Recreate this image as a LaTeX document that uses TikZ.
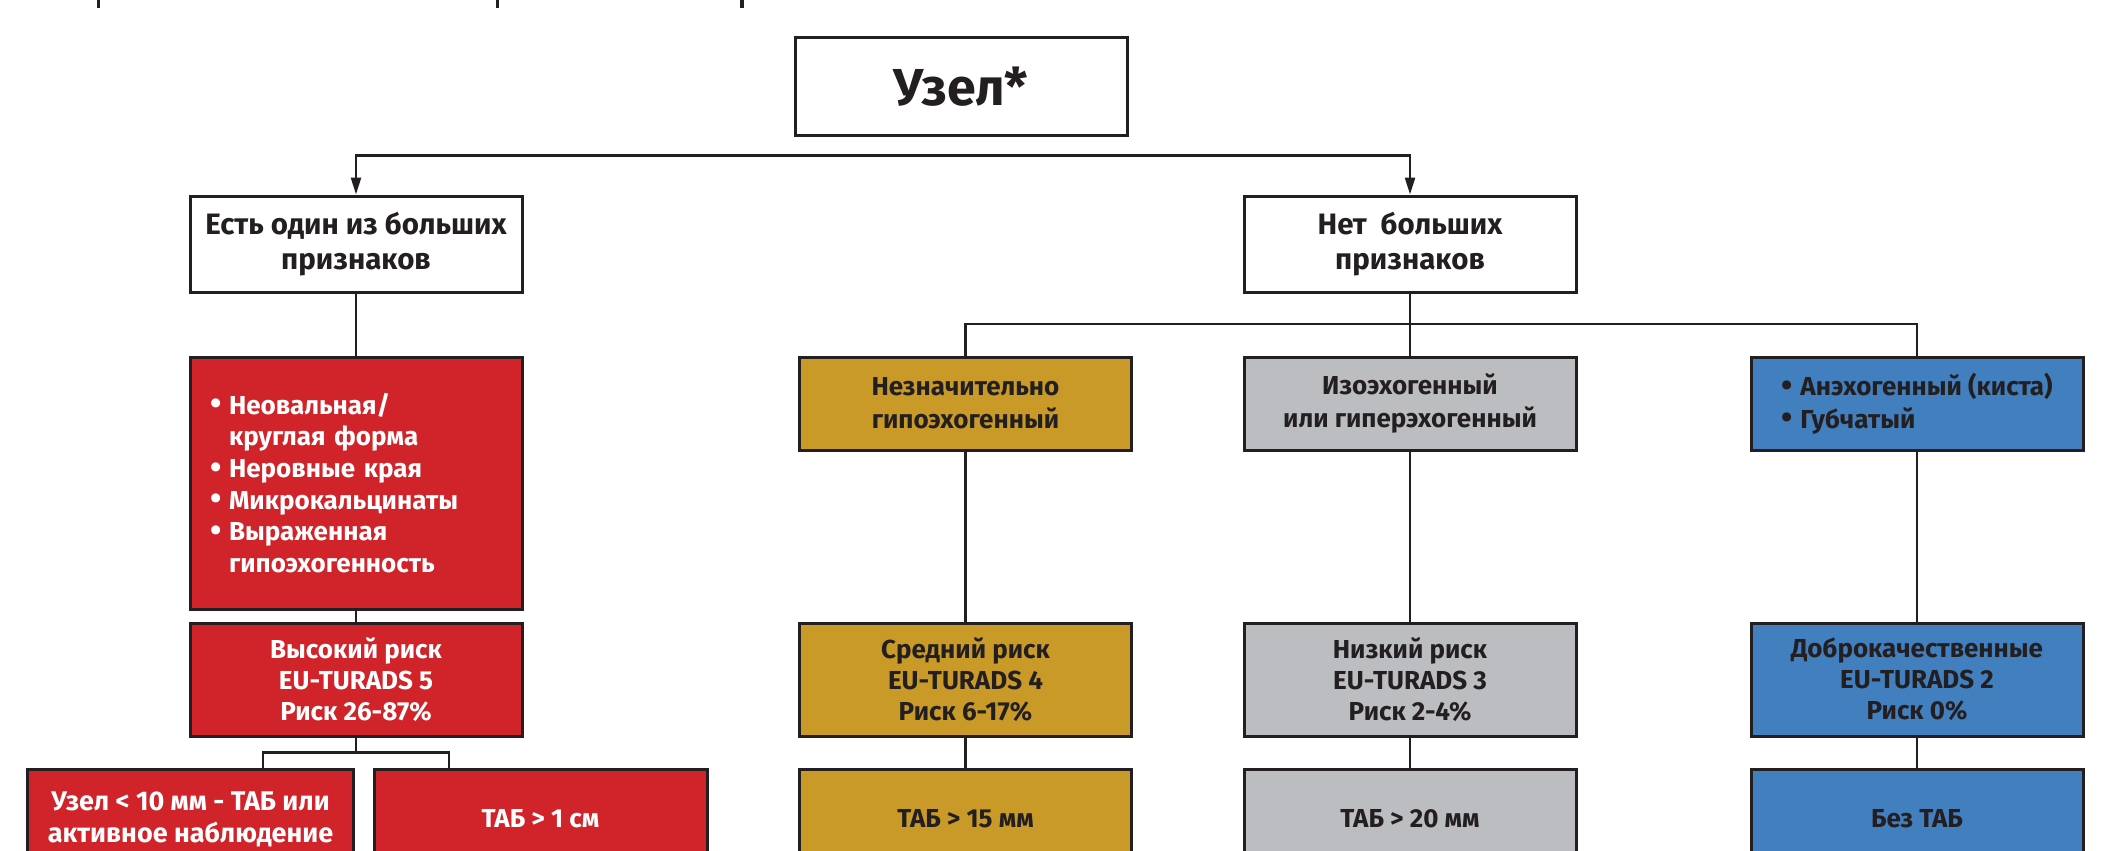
\documentclass[tikz,border=0pt]{standalone}
\usepackage{fontspec}
\setmainfont{Fira Sans}
\usetikzlibrary{arrows.meta}
\definecolor{linec}{HTML}{231F20}
\definecolor{redc}{HTML}{D1232A}
\definecolor{yelc}{HTML}{C99A27}
\definecolor{grayc}{HTML}{BCBDC0}
\definecolor{bluec}{HTML}{427FBE}
\newcommand{\bul}{\makebox[19pt][l]{\raisebox{-0.6pt}{\scalebox{1.25}{•}}}}
\newcommand{\ind}{\hspace*{19pt}}
\begin{document}
\begin{tikzpicture}[x=1pt,y=-1pt,
  box/.style={draw=linec, line width=3pt, inner sep=0pt, minimum width=332pt,
    align=center, text=linec, font=\bfseries\fontsize{26}{32}\selectfont},
  whitebox/.style={box, fill=white},
  redbox/.style={box, fill=redc, text=white},
  yelbox/.style={box, fill=yelc},
  graybox/.style={box, fill=grayc},
  bluebox/.style={box, fill=bluec},
  conn/.style={draw=linec, line width=2.5pt},
  tip/.tip={Stealth[length=17pt,width=10pt,inset=0pt]}
]
\clip (0,0) rectangle (2101,851);
\fill[white] (0,0) rectangle (2101,851);
% cut-off glyph remnants at the top edge
\fill[linec] (96.5,0) rectangle (100,8);
\fill[linec] (495.5,0) rectangle (499,8);
\fill[linec] (740,0) rectangle (743.5,8);

\node[whitebox, minimum height=97pt, font=\bfseries\fontsize{52}{60}\selectfont] (uzel) at (961,86.5) {Узел*};
\node[whitebox, minimum height=96pt, font=\bfseries\fontsize{29.5}{34.5}\selectfont] (yes) at (356,244) {Есть один из больших\\признаков};
\node[whitebox, minimum height=96pt, font=\bfseries\fontsize{29.5}{34.5}\selectfont] (no) at (1410,244) {Нет\ \ больших\\признаков};

\node[redbox, minimum height=252pt, text width=292pt, inner xsep=20pt, align=left, font=\bfseries\fontsize{26}{31.6}\selectfont] (f5) at (356,483)
  {\bul Неовальная/\\\ind круглая форма\\\bul Неровные края\\\bul Микрокальцинаты\\\bul Выраженная\\\ind гипоэхогенность};
\node[redbox, minimum height=113pt, font=\bfseries\fontsize{26}{31}\selectfont] (r5) at (356,679.5) {Высокий риск\\EU-TURADS 5\\Риск 26-87\%};
\node[redbox, minimum height=100pt, minimum width=326pt, font=\bfseries\fontsize{27}{32}\selectfont] (b1) at (190.6,819) {Узел < 10 мм - ТАБ или\\активное наблюдение};
\node[redbox, minimum height=100pt, minimum width=333pt] (b2) at (540.5,819) {ТАБ > 1 см};

\node[yelbox, minimum height=93pt, font=\bfseries\fontsize{26}{32.7}\selectfont] (h4) at (965.5,403.5) {Незначительно\\гипоэхогенный};
\node[yelbox, minimum height=113pt, font=\bfseries\fontsize{26}{31}\selectfont] (r4) at (965.5,679.5) {Средний риск\\EU-TURADS 4\\Риск 6-17\%};
\node[yelbox, minimum height=100pt] (t4) at (965.5,819) {ТАБ > 15 мм};

\node[graybox, minimum height=93pt, font=\bfseries\fontsize{26}{32.7}\selectfont] (h3) at (1410,403.5) {Изоэхогенный\\или гиперэхогенный};
\node[graybox, minimum height=113pt, font=\bfseries\fontsize{26}{31}\selectfont] (r3) at (1410,679.5) {Низкий риск\\EU-TURADS 3\\Риск 2-4\%};
\node[graybox, minimum height=100pt] (t3) at (1410,819) {ТАБ > 20 мм};

\node[bluebox, minimum height=93pt, align=left, font=\bfseries\fontsize{26}{32.7}\selectfont] (h2) at (1917,403.5) {\bul Анэхогенный (киста)\\\bul Губчатый};
\node[bluebox, minimum height=113pt, font=\bfseries\fontsize{26}{31}\selectfont] (r2) at (1917,679.5) {Доброкачественные\\EU-TURADS 2\\Риск 0\%};
\node[bluebox, minimum height=100pt] (t2) at (1917,819) {Без ТАБ};

% connectors
\draw[conn, tip-tip] (yes.north) -- ++(0,-39) -| (no.north);
\draw[conn] (yes.south) -- (f5.north);
\draw[conn] (f5.south) -- (r5.north);
\draw[conn] (r5.south) -- ++(0,15) coordinate (j5);
\draw[conn] (j5) -| ([xshift=72.4pt]b1.north);
\draw[conn] (j5) -| ([xshift=-91.5pt]b2.north);
\draw[conn] (no.south) -- (h3.north);
\draw[conn] (no.south |- 0,324) coordinate (jn) -| (h4.north);
\draw[conn] (jn) -| (h2.north);
\draw[conn] (h4.south) -- (r4.north);
\draw[conn] (r4.south) -- (t4.north);
\draw[conn] (h3.south) -- (r3.north);
\draw[conn] (r3.south) -- (t3.north);
\draw[conn] (h2.south) -- (r2.north);
\draw[conn] (r2.south) -- (t2.north);
\end{tikzpicture}
\end{document}
